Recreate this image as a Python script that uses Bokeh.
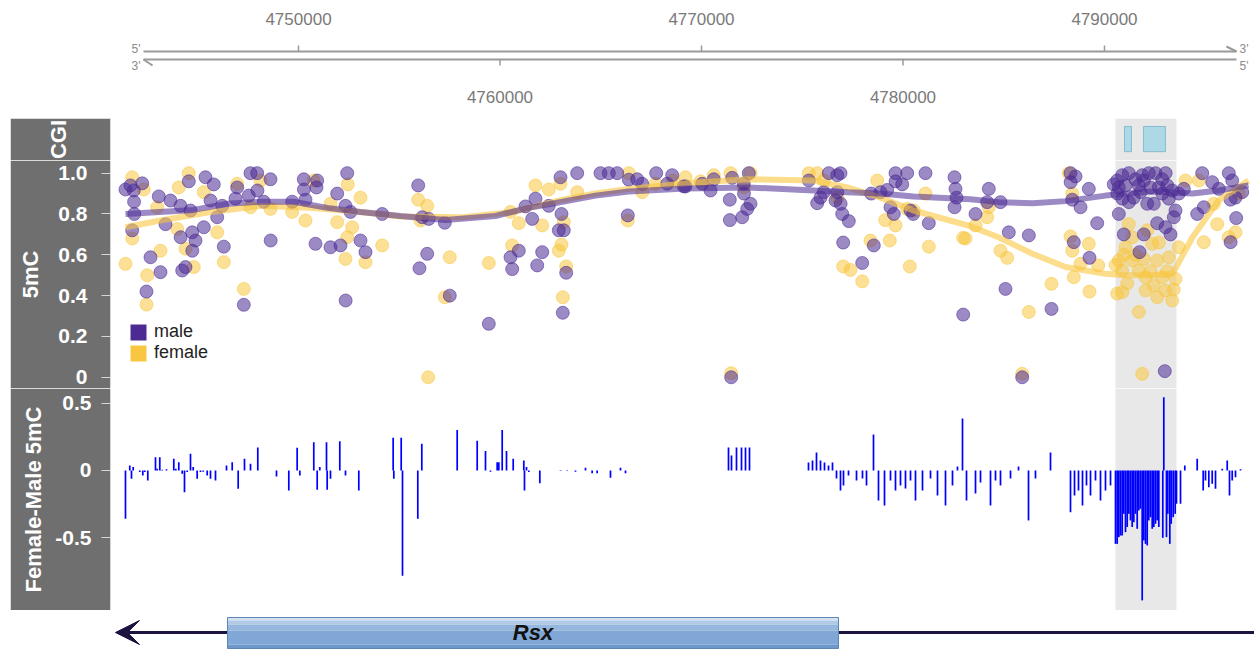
from bokeh.plotting import figure
from bokeh.layouts import column, row
from bokeh.models import Range1d, FixedTicker, BoxAnnotation, Legend, LegendItem, Spacer, Arrow, VeeHead
from bokeh.core.properties import value
from bokeh.embed import file_html
from bokeh.resources import INLINE

# ---------------- data ----------------
view_start, view_end = 4740670, 4797446
axis_start, axis_end = 4742308, 4796553
top_ticks = [4750000, 4770000, 4790000]
bottom_ticks = [4760000, 4780000]

cgi_start = [4790993, 4791935]
cgi_end = [4791340, 4793027]
highlight_start, highlight_end = 4790546, 4793573

gene_name = "Rsx"
gene_start, gene_end = 4746476, 4776800
gene_line_start = 4740918

male_pos = [4741414, 4741662, 4741826, 4742243, 4741840, 4741850, 4741747, 4743067, 4743399, 4743647,
            4744144, 4744640, 4744556, 4745384, 4745796, 4745633, 4745965, 4746213, 4745300, 4744150,
            4744724, 4744888, 4744730, 4744392, 4744228, 4742655, 4743151, 4742456, 4746293, 4747285,
            4746958, 4746873, 4747618, 4747950, 4747533, 4747960, 4748610, 4748278, 4748620, 4749687,
            4750263, 4750270, 4750928, 4750893, 4750347, 4750844, 4751588, 4751921, 4752084, 4752417,
            4752333, 4752581, 4753077, 4753325, 4754154, 4752340,
            4755941, 4756139, 4756467, 4757261, 4756387, 4756005, 4757509, 4759445, 4761266, 4761762,
            4761598, 4762422, 4763003, 4763832, 4763053, 4762919, 4763167, 4760522, 4760934, 4760606,
            4762095, 4761847, 4763286, 4763117, 4764988, 4765400, 4765817, 4766343, 4766393, 4766810,
            4767058, 4767753, 4768298, 4768547, 4769122,
            4769207, 4770036, 4770448, 4770611, 4771524, 4771405, 4772100, 4772348, 4772110, 4772433,
            4772269, 4772021, 4771410, 4771475, 4775326, 4775743, 4775907, 4776319, 4776736, 4776899,
            4776740, 4776651, 4776905, 4776984, 4777311, 4776071, 4777033, 4777976, 4778552, 4778423,
            4778885, 4779217, 4779629, 4780210, 4779635, 4779962, 4781118, 4779381, 4779545, 4780374,
            4780508, 4781282, 4782557, 4782607, 4782657, 4782560, 4782989,
            4784260, 4784180, 4784840, 4783600, 4785252, 4786245, 4785088, 4787371, 4788314, 4788563,
            4788320, 4789223, 4788399, 4788811, 4789639, 4788478, 4789257, 4785917, 4790712, 4790960,
            4791952, 4791739, 4792617, 4793029, 4793277, 4793526, 4793441, 4792994, 4794851, 4795347,
            4795675, 4796171, 4796340, 4796503, 4796836, 4796255, 4794602, 4794930, 4796538, 4796260,
            4790632, 4790880, 4791208, 4791540, 4791873, 4792200, 4792533, 4792865, 4793113, 4793362,
            4793689, 4793938, 4790640, 4790885, 4791215, 4791456, 4791788, 4792121, 4792449, 4792870,
            4793193, 4791044, 4791704, 4792285, 4792697, 4793035, 4791952, 4790712, 4790463]
male_val = [0.92, 0.94, 0.915, 0.95, 0.86, 0.80, 0.72, 0.886, 0.75, 0.866,
            0.84, 0.817, 0.96, 0.98, 0.945, 0.866, 0.784, 0.84, 0.735, 0.686,
            0.71, 0.67, 0.62, 0.54, 0.523, 0.588, 0.515, 0.42, 0.64, 0.355,
            0.93, 0.875, 1.0, 1.0, 0.89, 0.915, 0.97, 0.86, 0.67, 0.86,
            0.97, 0.92, 0.964, 0.93, 0.87, 0.654, 0.637, 0.90, 0.646, 1.0,
            0.84, 0.81, 0.67, 0.613, 0.80, 0.376,
            0.94, 0.784, 0.776, 0.757, 0.605, 0.534, 0.40, 0.262, 0.837, 0.875,
            0.776, 0.84, 0.98, 1.0, 0.80, 0.72, 0.72, 0.588, 0.62, 0.53,
            0.613, 0.548, 0.512, 0.316, 1.0, 1.0, 1.0, 0.793, 0.968, 0.97,
            0.948, 1.0, 0.948, 0.99, 0.935,
            0.935, 0.948, 0.915, 0.97, 0.977, 0.87, 0.948, 1.0, 0.90, 0.85,
            0.825, 0.784, 0.77, 0.0, 0.964, 0.853, 0.88, 1.0, 0.99, 1.0,
            0.907, 0.866, 0.85, 0.80, 0.765, 0.907, 0.66, 0.56, 0.646, 0.90,
            0.907, 0.918, 1.0, 1.0, 0.96, 0.945, 1.0, 0.833, 0.80, 0.817,
            0.80, 0.755, 0.98, 0.923, 0.88, 0.833, 0.307,
            0.923, 0.858, 0.858, 0.80, 0.71, 0.695, 0.433, 0.335, 1.0, 0.984,
            0.956, 0.923, 0.87, 0.833, 0.755, 0.662, 0.585, 0.0, 0.80, 0.70,
            0.70, 0.613, 0.755, 0.735, 0.70, 0.817, 0.784, 0.03, 1.0, 0.956,
            0.923, 1.0, 0.964, 0.88, 0.907, 0.87, 0.80, 0.833, 0.78, 0.662,
            0.964, 0.99, 1.0, 0.97, 0.99, 1.0, 1.0, 0.97, 0.94, 0.915,
            0.90, 0.923, 0.90, 0.875, 0.858, 0.88, 0.907, 0.85, 0.85, 0.90,
            0.875, 0.94, 0.94, 0.93, 0.93, 1.0, 0.964, 0.93, 0.945]

female_pos = [4741747, 4741414, 4741750, 4742322, 4742491, 4742456, 4743151, 4742987, 4744059, 4744556,
              4743980, 4744392, 4744804, 4745300, 4745965, 4746293, 4746958, 4747285, 4747618, 4748114,
              4748610, 4749687, 4750347, 4750759, 4751588, 4751921, 4752417, 4752665, 4752447, 4753077,
              4752333, 4753325, 4754154,
              4755941, 4756387, 4756055, 4757509, 4757261, 4756437, 4759445, 4760522, 4760934, 4761762,
              4762422, 4763003, 4763832, 4762095, 4763167, 4763053, 4762919, 4763286, 4763117, 4760606,
              4766343, 4766393, 4767058, 4767719, 4768580,
              4769207, 4769951, 4770611, 4771440, 4772433, 4772100, 4775326, 4775743, 4776071, 4776736,
              4778721, 4778388, 4779346, 4779118, 4779629, 4780210, 4780537, 4781118, 4781282, 4780339,
              4777033, 4777396, 4777976, 4782989, 4771475,
              4783103, 4783600, 4784180, 4784260, 4784840, 4785173, 4786245, 4787371, 4788230, 4788399,
              4788314, 4788400, 4788811, 4788478, 4789223, 4789689, 4789257, 4785917,
              4790880, 4790632, 4790885, 4791208, 4791044, 4791376, 4791704, 4792037, 4792369, 4792617,
              4792040, 4792865, 4793029, 4793362, 4792620, 4793526, 4790712, 4791710, 4793689, 4791380,
              4792121, 4793193, 4794022, 4791873,
              4790550, 4791130, 4791540, 4791950, 4792280, 4792450, 4792700, 4793110, 4793440, 4790960,
              4794930, 4795595, 4796503, 4796171, 4796670, 4795427, 4794685]
female_val = [0.98, 0.556, 0.68, 0.92, 0.50, 0.356, 0.62, 0.833, 0.93, 1.0,
              0.727, 0.63, 0.54, 0.907, 0.71, 0.564, 0.948, 0.433, 0.833, 0.964,
              0.825, 0.81, 0.768, 0.964, 0.85, 0.76, 0.686, 0.735, 0.945, 0.88,
              0.58, 0.564, 0.646,
              0.87, 0.84, 0.768, 0.588, 0.392, 0.0, 0.56, 0.81, 0.755, 0.94,
              0.92, 0.948, 0.907, 0.744, 0.76, 0.65, 0.62, 0.543, 0.392, 0.646,
              0.768, 1.0, 0.907, 0.948, 0.964,
              0.98, 0.96, 0.99, 1.0, 1.0, 0.93, 1.0, 1.0, 0.964, 0.88,
              0.964, 0.67, 0.67, 0.77, 0.744, 0.825, 0.817, 0.90, 0.64, 0.543,
              0.543, 0.526, 0.47, 0.683, 0.02,
              0.68, 0.744, 0.784, 0.833, 0.62, 0.585, 0.32, 0.458, 1.0, 0.90,
              0.69, 0.62, 0.556, 0.49, 0.654, 0.548, 0.42, 0.017,
              0.523, 0.41, 0.417, 0.75, 0.637, 0.572, 0.523, 0.49, 0.654, 0.572,
              0.425, 0.49, 0.425, 0.376, 0.392, 0.482, 0.572, 0.32, 0.637, 0.686,
              0.72, 0.588, 0.964, 0.017,
              0.55, 0.46, 0.60, 0.58, 0.52, 0.45, 0.66, 0.52, 0.43, 0.60,
              0.662, 0.75, 0.71, 0.686, 0.90, 0.85, 0.964]

male_fit_pos = [4741414, 4744789, 4746476, 4748114, 4749752, 4751439, 4753077, 4755062, 4757296, 4759777,
                4761415, 4763102, 4764740, 4766378, 4769207, 4772284, 4775559, 4777247, 4778885, 4780522,
                4783351, 4784741, 4786428, 4788066, 4790051, 4792285, 4794369, 4795660, 4797149]
male_fit_val = [0.80, 0.82, 0.85, 0.86, 0.86, 0.83, 0.81, 0.79, 0.77, 0.79,
                0.83, 0.86, 0.89, 0.91, 0.925, 0.93, 0.915, 0.907, 0.90, 0.886,
                0.872, 0.858, 0.853, 0.863, 0.89, 0.91, 0.90, 0.915, 0.94]
female_fit_pos = [4741414, 4743151, 4745633, 4748114, 4750596, 4753077, 4755062, 4758139, 4760621, 4763102,
                  4764740, 4766378, 4769207, 4772284, 4775559, 4777247, 4778885, 4780522, 4783351, 4784741,
                  4786428, 4788066, 4790051, 4791044, 4792285, 4793377, 4794369, 4795660, 4797149]
female_fit_val = [0.735, 0.768, 0.81, 0.84, 0.83, 0.81, 0.788, 0.784, 0.81, 0.87,
                  0.90, 0.923, 0.95, 0.97, 0.964, 0.93, 0.88, 0.817, 0.74, 0.686,
                  0.605, 0.54, 0.507, 0.50, 0.50, 0.507, 0.686, 0.866, 0.964]

diff_pos = [4741414, 4741627, 4741712, 4741796, 4742124, 4742273, 4742372, 4742521, 4742903, 4742987,
            4743116, 4743235, 4743449, 4743811, 4743911, 4744059, 4744228, 4744342, 4744476, 4744640,
            4744774, 4744972, 4745136, 4745270, 4745469, 4745633, 4745881, 4746427, 4746710, 4747007,
            4747320, 4747618, 4747980, 4748908, 4749519, 4749934, 4750066, 4750759, 4750928, 4751057,
            4751390, 4751424, 4751588, 4752050, 4752333, 4752993, 4754698, 4754731, 4755097, 4755162,
            4755921, 4756120, 4757876, 4758869, 4759281, 4759529, 4759860, 4759941, 4760110, 4760323,
            4760656, 4761182, 4761216, 4761316, 4761431, 4761977, 4763003, 4763336, 4763747, 4764244,
            4764574, 4764822, 4765484, 4765981, 4766229,
            4771341, 4771490, 4771738, 4771986, 4772185, 4772383,
            4775311, 4775510, 4775708, 4775907, 4776105, 4776304, 4776502, 4776701, 4776899, 4777048,
            4777297, 4777694, 4777991, 4778190, 4778537, 4778785, 4779083, 4779381, 4779629, 4779877,
            4780125, 4780374, 4780622, 4780969, 4781366, 4781714, 4782111, 4782458, 4782706, 4782954,
            4783153, 4783600, 4783848, 4784344, 4784592, 4784840, 4785337, 4785734, 4786230, 4786577,
            4787322, 4788314, 4788513, 4788711, 4788910, 4789108, 4789307, 4789555, 4789803, 4790051,
            4790300,
            4790548, 4790631, 4790712, 4790796, 4790880, 4790960, 4791044, 4791128, 4791208, 4791292,
            4791376, 4791456, 4791540, 4791624, 4791704, 4791788, 4791873, 4791952, 4792037, 4792121,
            4792200, 4792285, 4792369, 4792449, 4792533, 4792617, 4792697, 4792895, 4792945, 4793078,
            4793143, 4793243, 4793312, 4793411, 4793510, 4793575, 4793774, 4793987, 4794602, 4794900,
            4795014, 4795179, 4795347, 4795511, 4795844, 4796092, 4796206, 4796340, 4796503, 4796752]
diff_val = [-0.359, 0.037, -0.062, 0.025, -0.012, -0.037, -0.012, -0.074, 0.099, 0.012,
            0.099, 0.006, 0.01, 0.087, 0.012, 0.062, -0.025, -0.161, -0.012, 0.124,
            0.025, -0.062, -0.012, -0.01, -0.037, -0.062, -0.074, 0.037, 0.062, -0.136,
            0.087, 0.05, 0.17, -0.045, -0.149, 0.168, -0.037, 0.21, -0.144, 0.025,
            0.21, -0.144, -0.062, 0.218, -0.037, -0.149, 0.243, -0.062, 0.243, -0.782,
            -0.359, 0.198, 0.30, 0.22, 0.144, -0.01, 0.062, 0.062, 0.30, 0.144,
            0.087, 0.074, -0.149, 0.025, -0.012, -0.094, 0.004, 0.004, -0.01, 0.02,
            -0.02, -0.02, -0.054, 0.02, -0.02,
            0.171, 0.111, 0.171, 0.171, 0.171, 0.171,
            0.06, 0.074, 0.134, 0.074, 0.06, 0.037, 0.06, -0.06, -0.148, -0.111,
            -0.037, -0.074, -0.06, -0.111, 0.267, -0.223, -0.26, -0.074, -0.148, -0.111,
            -0.134, -0.074, -0.223, -0.148, -0.06, -0.186, -0.26, -0.111, 0.03, 0.386,
            -0.223, -0.171, -0.089, -0.26, -0.074, -0.111, -0.06, 0.03, -0.371, -0.06,
            0.134, -0.31, -0.186, -0.148, -0.26, -0.111, -0.186, -0.074, -0.223, -0.148,
            -0.111,
            -0.545, -0.545, -0.495, -0.483, -0.483, -0.322, -0.458, -0.42, -0.322, -0.371,
            -0.42, -0.384, -0.322, -0.433, -0.297, -0.285, -0.965, -0.52, -0.545, -0.557,
            -0.371, -0.347, -0.433, -0.42, -0.396, -0.371, -0.42, -0.50, 0.544, -0.495,
            -0.322, -0.545, -0.396, -0.347, -0.322, -0.247, -0.247, 0.037, 0.087, -0.148,
            -0.074, -0.124, -0.099, -0.136, 0.012, 0.074, -0.186, -0.074, -0.05, 0.01]

meth_ticks = [0, 0.2, 0.4, 0.6, 0.8, 1.0]
diff_ticks = [-0.5, 0, 0.5]

# ---------------- style ----------------
W = 1244
LEFT = 100
PANEL = "#6f6f6f"
FONT = "Liberation Sans"
MALE = "#4b2a93"
FEMALE = "#f8c640"
AXIS_GRAY = "#9a9a9a"

xr = Range1d(view_start, view_end)


def base(h, yr, with_axis):
    p = figure(width=W, height=h, x_range=xr, y_range=yr, output_backend="svg",
               toolbar_location=None, x_axis_location=None,
               y_axis_location="left" if with_axis else None,
               min_border_left=LEFT, min_border_right=0, min_border_top=0, min_border_bottom=0)
    p.grid.visible = False
    p.outline_line_color = None
    p.background_fill_color = "white"
    p.border_fill_color = PANEL if with_axis else "white"
    return p


def style_axis(ax, label, ticks, overrides, bounds, standoff, label_standoff):
    ax.axis_label = label
    ax.axis_label_text_color = "white"
    ax.axis_label_text_font = FONT
    ax.axis_label_text_font_style = "bold"
    ax.axis_label_text_font_size = "22px"
    ax.axis_label_standoff = standoff
    ax.ticker = FixedTicker(ticks=ticks)
    ax.major_label_overrides = overrides
    ax.major_label_text_color = "white"
    ax.major_label_text_font = FONT
    ax.major_label_text_font_style = "bold"
    ax.major_label_text_font_size = "21px"
    ax.major_label_standoff = label_standoff
    ax.major_tick_out = 9
    ax.major_tick_in = 0
    ax.minor_tick_out = 0
    ax.minor_tick_in = 0
    ax.axis_line_color = "#d6d6d6"
    ax.major_tick_line_color = "#d6d6d6"
    if bounds is not None:
        ax.bounds = bounds


def highlight(p):
    p.add_layout(BoxAnnotation(left=highlight_start, right=highlight_end, fill_color="#e8e8e8",
                               fill_alpha=1.0, line_color=None, level="underlay"))


# ---- genome axis ----
top = base(118, Range1d(118, 0), False)
top.segment(x0=[axis_start], x1=[axis_end], y0=[51], y1=[51], line_color=AXIS_GRAY, line_width=2)
top.segment(x0=[axis_start], x1=[axis_end], y0=[59], y1=[59], line_color=AXIS_GRAY, line_width=2)
top.segment(x0=[axis_end - 500], x1=[axis_end], y0=[46], y1=[51], line_color=AXIS_GRAY, line_width=2)
top.segment(x0=[axis_start], x1=[axis_start + 450], y0=[59], y1=[65], line_color=AXIS_GRAY, line_width=2)
top.segment(x0=top_ticks, x1=top_ticks, y0=[45] * len(top_ticks), y1=[51] * len(top_ticks),
            line_color=AXIS_GRAY, line_width=1.5)
top.segment(x0=bottom_ticks, x1=bottom_ticks, y0=[59] * len(bottom_ticks), y1=[65] * len(bottom_ticks),
            line_color=AXIS_GRAY, line_width=1.5)
top.text(x=top_ticks, y=[18] * len(top_ticks), text=[str(t) for t in top_ticks],
         text_align="center", text_baseline="middle", text_font=value(FONT),
         text_font_size="17px", text_color="#7a7a7a")
top.text(x=bottom_ticks, y=[96] * len(bottom_ticks), text=[str(t) for t in bottom_ticks],
         text_align="center", text_baseline="middle", text_font=value(FONT),
         text_font_size="17px", text_color="#7a7a7a")
top.text(x=[axis_start - 150] * 2, y=[48, 65], text=["5'", "3'"], text_align="right",
         text_baseline="middle", text_font=value(FONT), text_font_size="12px", text_color="#8a8a8a")
top.text(x=[axis_end + 150] * 2, y=[48, 65], text=["3'", "5'"], text_align="left",
         text_baseline="middle", text_font=value(FONT), text_font_size="12px", text_color="#8a8a8a")

# ---- CGI track ----
cgi = base(42, Range1d(0, 1), True)
highlight(cgi)
cgi.quad(left=cgi_start, right=cgi_end, bottom=[0.21] * len(cgi_start), top=[0.81] * len(cgi_start),
         fill_color="#add8e6", line_color="#86bccf", line_width=1)
style_axis(cgi.yaxis[0], "CGI", [], {}, None, 40, 0)
cgi.yaxis[0].major_tick_out = 0
cgi.yaxis[0].axis_line_color = None

# ---- 5mC track ----
meth = base(228, Range1d(-0.055, 1.062), True)
highlight(meth)
meth.scatter(female_pos, female_val, size=13, fill_color=FEMALE, fill_alpha=0.55,
             line_color=FEMALE, line_alpha=0.55)
meth.scatter(male_pos, male_val, size=13, fill_color=MALE, fill_alpha=0.55,
             line_color=MALE, line_alpha=0.55)
meth.line(female_fit_pos, female_fit_val, line_color=FEMALE, line_width=6, line_alpha=0.6)
meth.line(male_fit_pos, male_fit_val, line_color=MALE, line_width=6, line_alpha=0.55)
style_axis(meth.yaxis[0], "5mC", meth_ticks, {0: "0", 1: "1.0"}, (0, 1), 12, 14)
nan = float("nan")
r_m = meth.quad(left=[nan], right=[nan], top=[nan], bottom=[nan], fill_color=MALE, line_color=None)
r_f = meth.quad(left=[nan], right=[nan], top=[nan], bottom=[nan], fill_color=FEMALE, line_color=None)
leg = Legend(items=[LegendItem(label="male", renderers=[r_m]),
                    LegendItem(label="female", renderers=[r_f])],
             location=(18, 25), glyph_width=20, glyph_height=20, label_height=20, spacing=0,
             padding=0, margin=0, label_standoff=6, border_line_color=None,
             background_fill_alpha=0, label_text_font=FONT, label_text_font_size="18px",
             label_text_color="#222222")
meth.add_layout(leg)

# ---- difference track ----
diff = base(222, Range1d(-1.04, 0.609), True)
highlight(diff)
diff.vbar(x=diff_pos, top=diff_val, bottom=0, width=85, fill_color="#0000ff", line_color=None)
style_axis(diff.yaxis[0], "Female-Male 5mC", diff_ticks, {0: "0", -0.5: "-0.5"},
           (-0.97, 0.546), 6, 10)

# ---- gene track ----
gene = base(40, Range1d(40, 0), False)
gene.add_layout(Arrow(x_start=view_end, x_end=gene_line_start, y_start=22, y_end=22,
                      line_color="#1e1240", line_width=3, level="underlay",
                      end=VeeHead(size=24, fill_color="#1e1240", line_color="#1e1240")))
bands = [(7, 10, "#d3e1f1"), (10, 14, "#b2cae6"), (14, 20, "#96b7de"), (20, 34, "#80a7d5"), (34, 38, "#6f98ca")]
for b0, b1, c in bands:
    gene.quad(left=[gene_start], right=[gene_end], top=[b0], bottom=[b1], fill_color=c, line_color=None)
gene.quad(left=[gene_start], right=[gene_end], top=[7], bottom=[38], fill_color=None,
          line_color="#5f85b3", line_width=1)
gene.text(x=[(gene_start + gene_end) / 2], y=[22], text=[gene_name], text_align="center",
          text_baseline="middle", text_font=value(FONT), text_font_style="bold italic",
          text_font_size="22px", text_color="#111111")

layout = row(Spacer(width=10, height=10), column(top, cgi, meth, diff, gene, spacing=0), spacing=0)

with open("out.html", "w") as f:
    f.write(file_html(layout, INLINE))
